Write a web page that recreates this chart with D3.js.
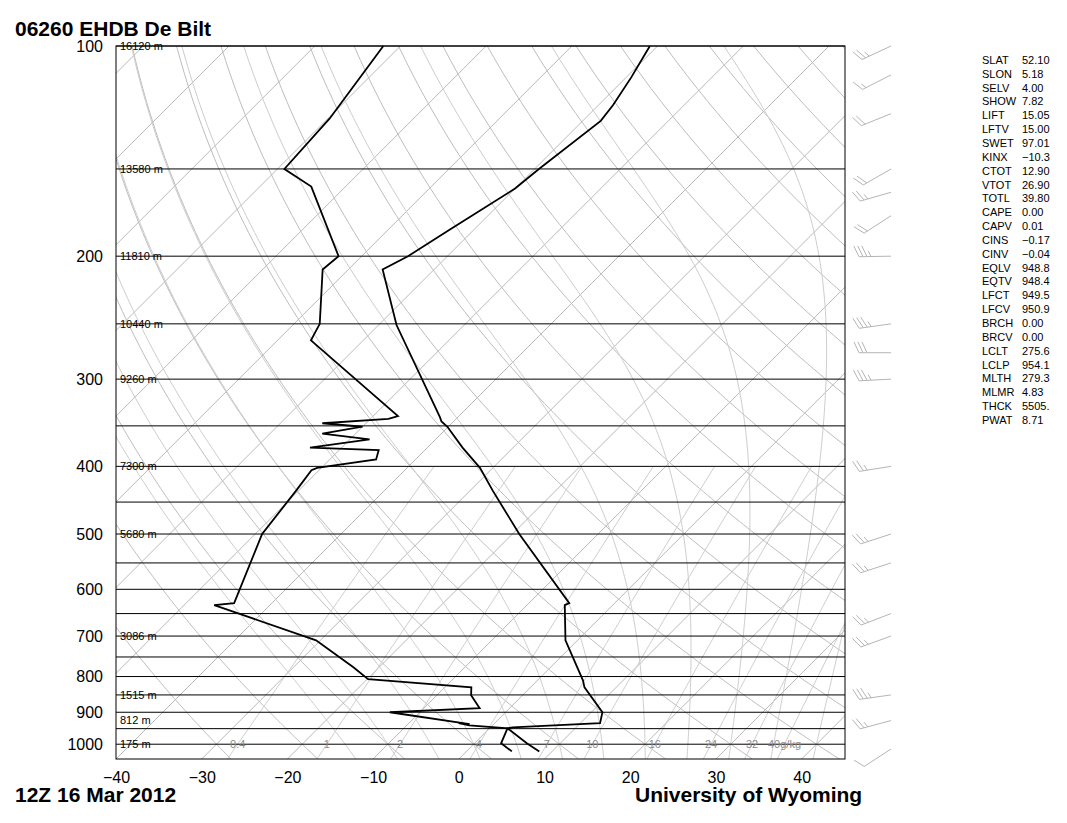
<!DOCTYPE html>
<html>
<head>
<meta charset="utf-8">
<script src="https://cdn.jsdelivr.net/npm/d3@7"></script>
<style>
  body { margin: 0; background: #fff; }
  svg { font-family: "Liberation Sans", Arial, sans-serif; }
</style>
</head>
<body>
<svg width="1067" height="823"></svg>
<script>
// ---- sounding: 06260 De Bilt, 12Z 16 Mar 2012 ----
const tempP = [1024, 997, 949, 946, 933, 900, 829, 810, 710, 632, 628, 500, 433, 402, 376, 351, 345, 340, 251, 209, 200, 183, 160, 150, 128, 121.5, 111, 100];
const tempC = [8.5, 6.1, 2.1, 2.6, 12.3, 11.3, 6.3, 5.3, -1.4, -5.6, -5.3, -19.2, -27.4, -31.5, -35.9, -40.1, -41.4, -42.1, -57.9, -66.0, -64.6, -62.8, -60.0, -59.5, -57.9, -58.3, -59.4, -60.9];

const dwptP = [1024, 997, 949, 940, 933, 936, 900, 888, 851, 829, 807, 776, 710, 632, 628, 500, 433, 405, 402, 391, 379, 376, 366, 359, 351, 347, 342, 339, 264, 250, 209, 200, 159, 150, 127, 100];
const dwptC = [5.3, 3.1, 2.1, -2.7, -4.2, -2.8, -13.5, -3.5, -6.0, -6.9, -19.9, -23.0, -30.5, -46.5, -44.4, -49.2, -50.3, -50.9, -50.5, -44.6, -45.4, -53.7, -47.7, -53.9, -50.0, -55.1, -47.9, -47.1, -66.1, -67.0, -73.0, -72.7, -84.0, -89.2, -89.8, -92.0];

const windP = [100, 110, 125, 150, 162, 175, 200, 250, 275, 300, 400, 500, 550, 650, 700, 850, 925, 1016];
const windDir = [245, 243, 248, 240, 254, 237, 269, 262, 270, 267, 261, 252, 252, 249, 250, 262, 255, 237];
const windKt = [25, 15, 20, 20, 25, 20, 35, 35, 30, 35, 25, 25, 25, 25, 25, 35, 25, 10];

const heightP = [100, 150, 200, 250, 300, 400, 500, 700, 850, 925, 1000];
const heightM = [16120, 13580, 11810, 10440, 9260, 7300, 5680, 3086, 1515, 812, 175];

const statNames = ['SLAT', 'SLON', 'SELV', 'SHOW', 'LIFT', 'LFTV', 'SWET', 'KINX', 'CTOT', 'VTOT', 'TOTL', 'CAPE', 'CAPV', 'CINS', 'CINV', 'EQLV', 'EQTV', 'LFCT', 'LFCV', 'BRCH', 'BRCV', 'LCLT', 'LCLP', 'MLTH', 'MLMR', 'THCK', 'PWAT'];
const statValues = ['52.10', '5.18', '4.00', '7.82', '15.05', '15.00', '97.01', '\u221210.3', '12.90', '26.90', '39.80', '0.00', '0.01', '\u22120.17', '\u22120.04', '948.8', '948.4', '949.5', '950.9', '0.00', '0.00', '275.6', '954.1', '279.3', '4.83', '5505.', '8.71'];

// ---- chart furniture ----
const tempTicks = [-40, -30, -20, -10, 0, 10, 20, 30, 40];
const pressureTicks = [100, 200, 300, 400, 500, 600, 700, 800, 900, 1000];
const isobars = [100, 150, 200, 250, 300, 350, 400, 450, 500, 550, 600, 650, 700, 750, 800, 850, 900, 950, 1000];
const isotherms = [-130, -120, -110, -100, -90, -80, -70, -60, -50, -40, -30, -20, -10, 0, 10, 20, 30, 40];
const dryThetaC = [-30, -20, -10, 0, 10, 20, 30, 40, 50, 60, 70, 80, 90, 100, 110, 120, 130, 140, 150, 160, 170, 180, 190, 200];
const moistStartC = [-15, -10, -5, 0, 5, 10, 15, 20, 25, 30, 35, 40];
const mixRatios = [0.4, 1, 2, 4, 7, 10, 16, 24, 32, 40];

const svg = d3.select('svg');
const plot = { left: 116, right: 845, top: 46, bottom: 759 };

const x = d3.scaleLinear().domain([-40, 45]).range([116, 844.5]);
const y = d3.scaleLog().domain([1050, 100]).range([plot.bottom, plot.top]);
const skewX = (t, p) => x(t) + (y(1050) - y(p));

const pSamples = d3.range(1050, 99, -5);
const curve = d3.line().x(d => skewX(d.t, d.p)).y(d => y(d.p));

svg.append('defs').append('clipPath').attr('id', 'plotclip')
  .append('rect')
  .attr('x', plot.left).attr('y', plot.top)
  .attr('width', plot.right - plot.left).attr('height', plot.bottom - plot.top);

const grid = svg.append('g').attr('clip-path', 'url(#plotclip)').attr('fill', 'none');

// isotherms
grid.selectAll('.isotherm')
  .data(isotherms)
  .join('path')
  .attr('class', 'isotherm')
  .attr('stroke', '#b9b9b9')
  .attr('stroke-width', 1)
  .attr('d', t => curve([{ t: t, p: 1050 }, { t: t, p: 100 }]));

// dry adiabats
grid.selectAll('.dry')
  .data(dryThetaC)
  .join('path')
  .attr('class', 'dry')
  .attr('stroke', '#bdbdbd')
  .attr('stroke-width', 1)
  .attr('d', th => curve(pSamples.map(p => ({ p: p, t: (th + 273.15) * Math.pow(p / 1000, 0.2857) - 273.15 }))));

// moist adiabats
const dTdp = (p, T) => {
  const Rd = 287.04, Cp = 1005.7, Lv = 2.501e6, eps = 0.622;
  const es = 6.112 * Math.exp(17.67 * (T - 273.15) / (T - 29.65));
  const rs = eps * es / (p - es);
  return (Rd * T + Lv * rs) / (Cp + Lv * Lv * rs * eps / (Rd * T * T)) / p;
};
const moistLine = t0 => {
  const pts = [{ p: 1000, t: t0 }];
  let T = t0 + 273.15;
  for (let p = 1000; p > 100; p -= 5) {
    const k1 = dTdp(p, T);
    const k2 = dTdp(p - 2.5, T - 2.5 * k1);
    T -= 5 * k2;
    pts.push({ p: p - 5, t: T - 273.15 });
  }
  T = t0 + 273.15;
  for (let p = 1000; p < 1050; p += 5) {
    const k1 = dTdp(p, T);
    const k2 = dTdp(p + 2.5, T + 2.5 * k1);
    T += 5 * k2;
    pts.unshift({ p: p + 5, t: T - 273.15 });
  }
  return pts;
};
grid.selectAll('.moist')
  .data(moistStartC)
  .join('path')
  .attr('class', 'moist')
  .attr('stroke', '#cdcdcd')
  .attr('stroke-width', 1)
  .attr('d', t0 => curve(moistLine(t0)));

// mixing ratio lines
const mixTemp = (w, p) => {
  const e = w * p / (622 + w);
  const l = Math.log(e / 6.112);
  return 243.5 * l / (17.67 - l);
};
grid.selectAll('.mix')
  .data(mixRatios)
  .join('path')
  .attr('class', 'mix')
  .attr('stroke', '#cdcdcd')
  .attr('stroke-width', 1)
  .attr('d', w => curve(pSamples.filter(p => p >= 400).map(p => ({ p: p, t: mixTemp(w, p) }))));

// isobars
svg.append('g').selectAll('line')
  .data(isobars)
  .join('line')
  .attr('x1', plot.left).attr('x2', plot.right)
  .attr('y1', d => y(d)).attr('y2', d => y(d))
  .attr('stroke', '#000')
  .attr('stroke-width', 1);

// mixing ratio labels
svg.append('g').selectAll('text')
  .data(mixRatios)
  .join('text')
  .attr('x', w => skewX(mixTemp(w, 1000), 1000))
  .attr('y', y(1000))
  .attr('dy', '0.35em')
  .attr('text-anchor', 'middle')
  .attr('font-size', 11)
  .attr('fill', '#8c8c8c')
  .text((w, i) => i === mixRatios.length - 1 ? w + 'g/kg' : w);

// height labels
svg.append('g').selectAll('text')
  .data(heightP)
  .join('text')
  .attr('x', 120)
  .attr('y', p => y(p))
  .attr('dy', '0.35em')
  .attr('font-size', 11)
  .attr('fill', '#000')
  .text((p, i) => heightM[i] + ' m');

// border
svg.append('rect')
  .attr('x', plot.left).attr('y', plot.top)
  .attr('width', plot.right - plot.left).attr('height', plot.bottom - plot.top)
  .attr('fill', 'none').attr('stroke', '#000').attr('stroke-width', 1);

// temperature and dew point
const tempData = tempP.map((p, i) => ({ p: p, t: tempC[i] }));
const dwptData = dwptP.map((p, i) => ({ p: p, t: dwptC[i] }));
svg.selectAll('.profile')
  .data([tempData, dwptData])
  .join('path')
  .attr('class', 'profile')
  .attr('fill', 'none')
  .attr('stroke', '#000')
  .attr('stroke-width', 1.8)
  .attr('stroke-linejoin', 'miter')
  .attr('d', curve);

// axes
const xAxis = d3.axisBottom(x)
  .tickValues(tempTicks)
  .tickSize(0)
  .tickPadding(13)
  .tickFormat(d => d < 0 ? '\u2212' + Math.abs(d) : d);
svg.append('g')
  .attr('transform', `translate(0, ${plot.bottom})`)
  .call(xAxis)
  .call(g => g.select('.domain').remove())
  .attr('font-size', 16)
  .attr('font-family', '"Liberation Sans", Arial, sans-serif');

const yAxis = d3.axisLeft(y)
  .tickValues(pressureTicks)
  .tickSize(0)
  .tickPadding(13)
  .tickFormat(d3.format('d'));
svg.append('g')
  .attr('transform', `translate(${plot.left}, 0)`)
  .call(yAxis)
  .call(g => g.select('.domain').remove())
  .attr('font-size', 16)
  .attr('font-family', '"Liberation Sans", Arial, sans-serif');

// wind barbs
const barbs = svg.append('g').attr('stroke', '#b5b5b5').attr('stroke-width', 1).attr('fill', 'none');
const staffLen = 32, featherLen = 12, featherGap = 4;
const rot = 65 * Math.PI / 180;
windP.forEach((p, i) => {
  const a = windDir[i] * Math.PI / 180;
  const dx = Math.sin(a), dy = -Math.cos(a);
  const bx = 891, by = y(p);
  const tx = bx + dx * staffLen, ty = by + dy * staffLen;
  const fx = dx * Math.cos(rot) - dy * Math.sin(rot);
  const fy = dx * Math.sin(rot) + dy * Math.cos(rot);
  let path = `M${bx},${by}L${tx},${ty}`;
  let full = Math.floor(windKt[i] / 10);
  let half = (windKt[i] % 10) >= 5 ? 1 : 0;
  let k = 0;
  if (full === 0 && half) k = 1;
  for (let j = 0; j < full; j++, k++) {
    const sx = tx - dx * featherGap * k, sy = ty - dy * featherGap * k;
    path += `M${sx},${sy}l${fx * featherLen},${fy * featherLen}`;
  }
  if (half) {
    const sx = tx - dx * featherGap * k, sy = ty - dy * featherGap * k;
    path += `M${sx},${sy}l${fx * featherLen / 2},${fy * featherLen / 2}`;
  }
  barbs.append('path').attr('d', path);
});

// station indices
const stats = svg.append('g').attr('font-size', 11).attr('fill', '#000');
stats.selectAll('.sname')
  .data(statNames)
  .join('text')
  .attr('class', 'sname')
  .attr('x', 982)
  .attr('y', (d, i) => 60 + i * 13.85)
  .attr('dy', '0.35em')
  .text(d => d);
stats.selectAll('.sval')
  .data(statValues)
  .join('text')
  .attr('class', 'sval')
  .attr('x', 1022)
  .attr('y', (d, i) => 60 + i * 13.85)
  .attr('dy', '0.35em')
  .text(d => d);

// titles
svg.append('text')
  .attr('x', 15).attr('y', 36)
  .attr('font-size', 21).attr('font-weight', 'bold')
  .text('06260 EHDB De Bilt');
svg.append('text')
  .attr('x', 15).attr('y', 802)
  .attr('font-size', 21).attr('font-weight', 'bold')
  .text('12Z 16 Mar 2012');
svg.append('text')
  .attr('x', 635).attr('y', 802)
  .attr('font-size', 21).attr('font-weight', 'bold')
  .text('University of Wyoming');
</script>
</body>
</html>
